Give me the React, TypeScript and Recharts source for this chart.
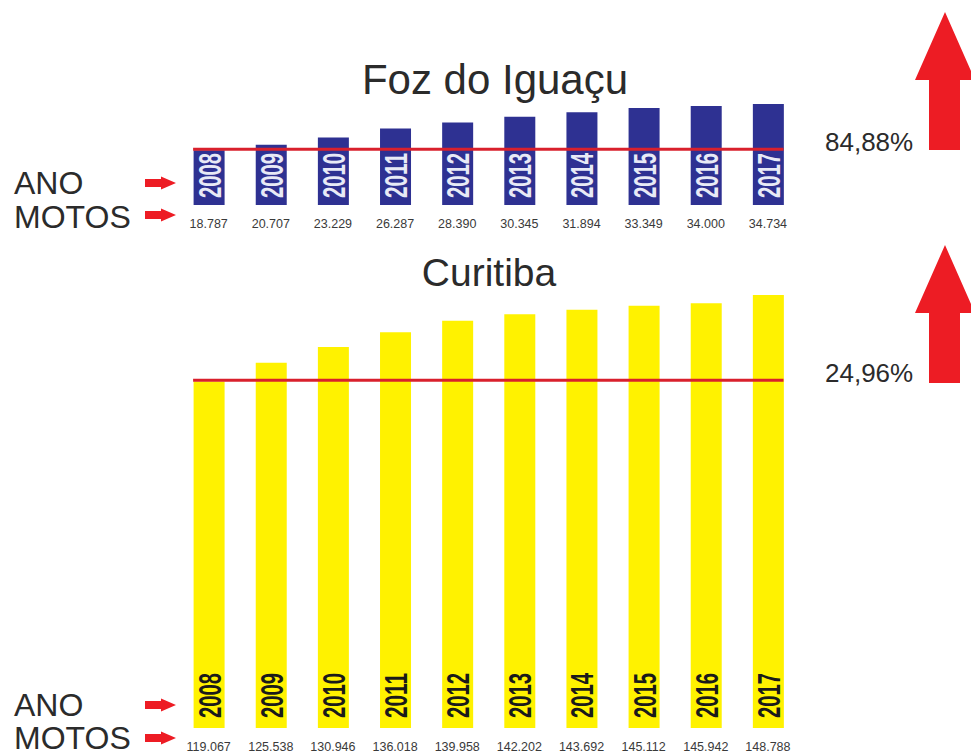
import { BarChart, Bar, XAxis, YAxis, ReferenceLine, LabelList } from 'recharts';

const ANOS = ['2008', '2009', '2010', '2011', '2012', '2013', '2014', '2015', '2016', '2017'];
const MOTOS_FOZ = [18787, 20707, 23229, 26287, 28390, 30345, 31894, 33349, 34000, 34734];
const MOTOS_CURITIBA = [119067, 125538, 130946, 136018, 139958, 142202, 143692, 145112, 145942, 148788];
const LINHA_FOZ = 19200;
const LINHA_CURITIBA = 119500;

const FONT = "'Liberation Sans', Arial, sans-serif";
const VERMELHO = '#ed1c24';
const BAR_SIZE = 31;

const milhar = (v: number) => String(v).replace(/\B(?=(\d{3})+$)/g, '.');

function AnoLabel({ x, y, width, height, value, fill, weight, base }: any) {
  const cx = x + width / 2;
  const by = y + height - base;
  return (
    <text
      x={cx}
      y={by}
      dy={11.5}
      transform={`rotate(-90 ${cx} ${by})`}
      fill={fill}
      fontFamily="'Liberation Sans Narrow', 'Liberation Sans', sans-serif"
      fontWeight={weight}
      fontSize={32}
      textLength={45}
      lengthAdjust="spacingAndGlyphs"
    >
      {value}
    </text>
  );
}

function LinhaBase(props: any) {
  return (
    <line
      x1={props.x1 + BAR_SIZE / 2}
      x2={props.x2 - BAR_SIZE / 2}
      y1={props.y1}
      y2={props.y2}
      stroke="#d9202c"
      strokeWidth={3}
    />
  );
}

interface PainelProps {
  motos: number[];
  linha: number;
  cor: string;
  corAno: string;
  baseAno: number;
  maximo: number;
  top: number;
  height: number;
  margemTopo: number;
  alturaEixo: number;
  tickMargin: number;
}

function Painel(p: PainelProps) {
  const data = ANOS.map((ano, i) => ({ ano, motos: p.motos[i], rotulo: milhar(p.motos[i]) }));
  return (
    <div style={{ position: 'absolute', left: 0, top: p.top }}>
      <BarChart
        width={971}
        height={p.height}
        data={data}
        barCategoryGap={0}
        margin={{ top: p.margemTopo, right: 172, bottom: 0, left: 177.6 }}
      >
        <XAxis
          dataKey="rotulo"
          interval={0}
          axisLine={false}
          tickLine={false}
          tickMargin={p.tickMargin}
          height={p.alturaEixo}
          tick={{ fontSize: 12.5, fill: '#3a3a3a', fontFamily: FONT }}
        />
        <YAxis hide domain={[0, p.maximo]} />
        <Bar dataKey="motos" fill={p.cor} barSize={BAR_SIZE} isAnimationActive={false}>
          <LabelList
            dataKey="ano"
            content={(l: any) => <AnoLabel {...l} fill={p.corAno} weight={700} base={p.baseAno} />}
          />
        </Bar>
        <ReferenceLine y={p.linha} shape={LinhaBase} />
      </BarChart>
    </div>
  );
}

function Texto({ x, y, size, children, center }: any) {
  return (
    <div
      style={{
        position: 'absolute',
        left: x,
        top: y,
        transform: center ? 'translate(-50%, -50%)' : 'translateY(-50%)',
        fontFamily: FONT,
        fontSize: size,
        lineHeight: 0.85,
        color: '#2b2b2b',
        whiteSpace: 'nowrap',
      }}
    >
      {children}
    </div>
  );
}

function SetaPequena({ y }: { y: number }) {
  return (
    <polygon
      points={`145,${y - 4} 161,${y - 4} 161,${y - 6.5} 176,${y} 161,${y + 6.5} 161,${y + 4} 145,${y + 4}`}
      fill={VERMELHO}
    />
  );
}

function SetaGrande({ y }: { y: number }) {
  return (
    <polygon
      points={`945,${y} 975,${y + 68} 960,${y + 68} 960,${y + 138} 929,${y + 138} 929,${y + 68} 915,${y + 68}`}
      fill={VERMELHO}
    />
  );
}

export default function App() {
  return (
    <div style={{ position: 'fixed', left: 0, top: 0, width: 971, height: 754, background: '#fff', overflow: 'hidden' }}>
      <Painel
        motos={MOTOS_FOZ}
        linha={LINHA_FOZ}
        cor="#2e3192"
        corAno="#e8eaf6"
        baseAno={7}
        maximo={36000}
        top={60}
        height={175}
        margemTopo={40.24}
        alturaEixo={30}
        tickMargin={8}
      />
      <Painel
        motos={MOTOS_CURITIBA}
        linha={LINHA_CURITIBA}
        cor="#fff200"
        corAno="#1a1a1a"
        baseAno={10}
        maximo={150000}
        top={240}
        height={514}
        margemTopo={51.5}
        alturaEixo={26}
        tickMargin={8}
      />
      <svg width={971} height={754} style={{ position: 'absolute', left: 0, top: 0 }}>
        <SetaPequena y={183} />
        <SetaPequena y={215} />
        <SetaPequena y={705} />
        <SetaPequena y={738} />
        <SetaGrande y={12} />
        <SetaGrande y={245} />
      </svg>
      <Texto x={495} y={80} size={42} center>Foz do Iguaçu</Texto>
      <Texto x={489} y={273} size={39} center>Curitiba</Texto>
      <Texto x={14} y={184} size={32}>ANO</Texto>
      <Texto x={14} y={218} size={32}>MOTOS</Texto>
      <Texto x={14} y={706} size={32}>ANO</Texto>
      <Texto x={14} y={739} size={32}>MOTOS</Texto>
      <Texto x={825} y={142} size={26}>84,88%</Texto>
      <Texto x={825} y={373} size={26}>24,96%</Texto>
    </div>
  );
}
